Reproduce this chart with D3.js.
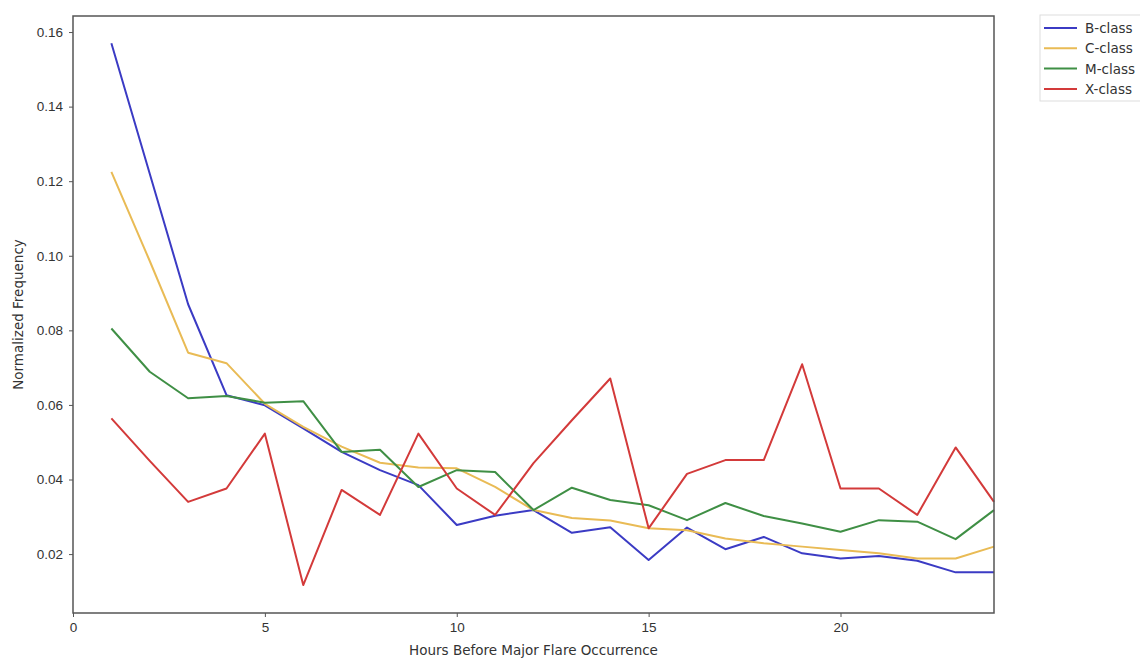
<!DOCTYPE html>
<html>
<head>
<meta charset="utf-8">
<script src="https://cdn.jsdelivr.net/npm/d3@7"></script>
<style>
  body { margin: 0; background: #fff; }
  svg { font-family: "DejaVu Sans", sans-serif; }
</style>
</head>
<body>
<div id="chart"></div>
<script>
// Hours before flare
const hours = [1,2,3,4,5,6,7,8,9,10,11,12,13,14,15,16,17,18,19,20,21,22,23,24];

const bClass = [0.157, 0.122, 0.087, 0.0626, 0.0599, 0.0537, 0.0474, 0.0425, 0.0385, 0.0278, 0.0303, 0.0318,
                0.0257, 0.0272, 0.0184, 0.0271, 0.0213, 0.0246, 0.0202, 0.0188, 0.0195, 0.0182, 0.0151, 0.0151];
const cClass = [0.1225, 0.0986, 0.0740, 0.0712, 0.0603, 0.0541, 0.0488, 0.0445, 0.0432, 0.043, 0.0380, 0.0318,
                0.0297, 0.029, 0.0269, 0.0264, 0.0242, 0.0229, 0.022, 0.0211, 0.0202, 0.0188, 0.0188, 0.022];
const mClass = [0.0805, 0.0689, 0.0618, 0.0624, 0.0606, 0.0610, 0.0474, 0.048, 0.038, 0.0425, 0.042, 0.0318,
                0.0378, 0.0345, 0.0331, 0.0291, 0.0337, 0.0302, 0.0282, 0.026, 0.0291, 0.0287, 0.024, 0.0318];
const xClass = [0.0564, 0.045, 0.034, 0.0376, 0.0523, 0.0117, 0.0372, 0.0305, 0.0523, 0.0376, 0.0305, 0.0444,
                0.0559, 0.0671, 0.0269, 0.0415, 0.0452, 0.0452, 0.0709, 0.0376, 0.0376, 0.0305, 0.0486, 0.034];

const seriesNames = ['B-class', 'C-class', 'M-class', 'X-class'];
const seriesColors = ['#3b3bc4', '#e9bb55', '#3f8f45', '#d33a3a'];
const xTicks = [0, 5, 10, 15, 20];
const yTicks = [0.02, 0.04, 0.06, 0.08, 0.10, 0.12, 0.14, 0.16];

const width = 1140, height = 660;
const margin = { top: 16, right: 146, bottom: 47, left: 73 };
const fontSize = '13.5px';

const svg = d3.select('#chart')
    .append('svg')
    .attr('width', width)
    .attr('height', height);

const x = d3.scaleLinear()
    .domain([0, 24])
    .range([margin.left, width - margin.right]);

const y = d3.scaleLinear()
    .domain([0.0042, 0.1643])
    .range([height - margin.bottom, margin.top]);

// Axes
const xAxis = svg.append('g')
    .attr('transform', `translate(0,${height - margin.bottom})`)
    .call(d3.axisBottom(x).tickValues(xTicks).tickSize(4).tickPadding(5).tickFormat(d3.format('d')));

const yAxis = svg.append('g')
    .attr('transform', `translate(${margin.left},0)`)
    .call(d3.axisLeft(y).tickValues(yTicks).tickSize(4).tickPadding(6).tickFormat(d3.format('.2f')));

[xAxis, yAxis].forEach(g => {
    g.select('.domain').remove();
    g.selectAll('.tick line').attr('stroke', '#555');
    g.selectAll('.tick text').attr('fill', '#333').style('font-size', fontSize);
});

// Lines
const series = [bClass, cClass, mClass, xClass];
const line = d3.line()
    .x((d, i) => x(hours[i]))
    .y(d => y(d));

series.forEach((vals, i) => {
    svg.append('path')
        .datum(vals)
        .attr('fill', 'none')
        .attr('stroke', seriesColors[i])
        .attr('stroke-width', 2)
        .attr('stroke-linejoin', 'round')
        .attr('d', line);
});

// Frame
svg.append('rect')
    .attr('x', margin.left)
    .attr('y', margin.top)
    .attr('width', width - margin.right - margin.left)
    .attr('height', height - margin.bottom - margin.top)
    .attr('fill', 'none')
    .attr('stroke', '#555')
    .attr('stroke-width', 1.5);

// Axis labels
svg.append('text')
    .attr('x', (margin.left + width - margin.right) / 2)
    .attr('y', 655)
    .attr('text-anchor', 'middle')
    .attr('fill', '#333')
    .style('font-size', fontSize)
    .text('Hours Before Major Flare Occurrence');

svg.append('text')
    .attr('transform', `translate(23,${(margin.top + height - margin.bottom) / 2}) rotate(-90)`)
    .attr('text-anchor', 'middle')
    .attr('fill', '#333')
    .style('font-size', fontSize)
    .text('Normalized Frequency');

// Legend
const legend = svg.append('g').attr('transform', 'translate(1040,15)');
legend.append('rect')
    .attr('width', 104)
    .attr('height', 86)
    .attr('fill', '#fff')
    .attr('stroke', '#ddd');

seriesNames.forEach((name, i) => {
    const ly = 13 + i * 20.3;
    legend.append('line')
        .attr('x1', 4).attr('x2', 37)
        .attr('y1', ly).attr('y2', ly)
        .attr('stroke', seriesColors[i])
        .attr('stroke-width', 2);
    legend.append('text')
        .attr('x', 45)
        .attr('y', ly + 5)
        .attr('fill', '#333')
        .style('font-size', fontSize)
        .text(name);
});
</script>
</body>
</html>
